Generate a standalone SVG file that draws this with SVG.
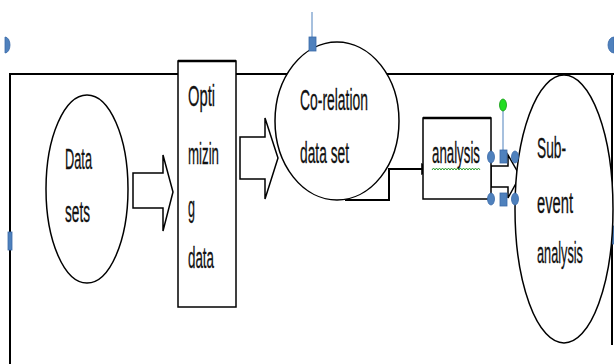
<svg xmlns="http://www.w3.org/2000/svg" width="614" height="364" viewBox="0 0 614 364">
  <style>
    .shape { fill: #ffffff; stroke: #000000; stroke-width: 1.5; }
    .frame { fill: none; stroke: #000000; stroke-width: 2; }
    .label { font-family: "Liberation Sans", Arial, sans-serif; font-size: 29px; fill: #111111; stroke: #111111; stroke-width: 0.3; }
    .handle { fill: #4f81bd; stroke: #3a6aa8; stroke-width: 0.8; }
    .handle-line { stroke: #4f81bd; stroke-width: 1; fill: none; }
    .wire { fill: none; stroke: #000000; stroke-width: 2; }
  </style>
  <defs>
    <marker id="arrow" viewBox="0 0 10 10" refX="9" refY="5" markerWidth="6" markerHeight="6" markerUnits="strokeWidth" orient="auto">
      <path d="M0,0 L10,5 L0,10 z" fill="#000000"/>
    </marker>
  </defs>

  <rect width="614" height="364" fill="#ffffff"/>

  <!-- outer frame -->
  <g id="frame">
    <path class="frame" d="M10,364 V74 H614"/>
    <path class="frame" d="M612,74 V345"/>
  </g>

  <!-- frame selection handles -->
  <g id="frame-handles">
    <path class="handle" d="M5,37 A5,8 0 0 1 5,53 Z"/>
    <rect class="handle" x="8" y="232" width="4" height="18"/>
    <path class="handle" d="M614,37 A6,8 0 0 0 614,53 Z"/>
    <rect class="handle" x="611" y="226" width="3" height="18"/>
  </g>

  <!-- connectors -->
  <g id="connectors">
    <path class="shape" d="M133,173 H163 V155 L173,192 L163,231 V208 H133 Z"/>
    <path class="shape" d="M240,137 H265 V118 L278,158 L265,199 V179 H240 Z"/>
    <path class="wire" d="M345,200 H389 V169 H432" marker-end="url(#arrow)"/>
    <path class="shape" d="M491,166 H508 V155 L520,176 L508,198 V187 H491 Z"/>
  </g>

  <g id="data-sets">
    <ellipse class="shape" cx="87" cy="189" rx="41" ry="94"/>
    <text class="label" x="65" y="169" textLength="27" lengthAdjust="spacingAndGlyphs">Data</text>
    <text class="label" x="65" y="222" textLength="25" lengthAdjust="spacingAndGlyphs">sets</text>
  </g>

  <g id="optimizing-data">
    <rect class="shape" x="178" y="61" width="58" height="246"/>
    <line x1="178" y1="61" x2="236" y2="61" stroke="#000" stroke-width="2.5"/>
    <text class="label" x="188" y="106" textLength="27" lengthAdjust="spacingAndGlyphs">Opti</text>
    <text class="label" x="188" y="164" textLength="31" lengthAdjust="spacingAndGlyphs">mizin</text>
    <text class="label" x="188" y="217" textLength="7" lengthAdjust="spacingAndGlyphs">g</text>
    <text class="label" x="188" y="268" textLength="26" lengthAdjust="spacingAndGlyphs">data</text>
  </g>

  <g id="co-relation-data-set">
    <ellipse class="shape" cx="337" cy="121" rx="62" ry="79"/>
    <text class="label" x="300" y="110" textLength="68" lengthAdjust="spacingAndGlyphs">Co-relation</text>
    <text class="label" x="300" y="163" textLength="49" lengthAdjust="spacingAndGlyphs">data set</text>
    <line class="handle-line" x1="312" y1="12" x2="312" y2="38"/>
    <rect class="handle" x="309" y="37" width="7" height="14"/>
  </g>

  <g id="analysis">
    <rect class="shape" x="423" y="118" width="68" height="81"/>
    <line x1="423" y1="118" x2="491" y2="118" stroke="#000" stroke-width="2.5"/>
    <text class="label" x="432" y="163" textLength="48" lengthAdjust="spacingAndGlyphs">analysis</text>
    <path d="M432,170 l1.5,-2 l1.5,2 l1.5,-2 l1.5,2 l1.5,-2 l1.5,2 l1.5,-2 l1.5,2 l1.5,-2 l1.5,2 l1.5,-2 l1.5,2 l1.5,-2 l1.5,2 l1.5,-2 l1.5,2 l1.5,-2 l1.5,2 l1.5,-2 l1.5,2 l1.5,-2 l1.5,2 l1.5,-2 l1.5,2 l1.5,-2 l1.5,2 l1.5,-2 l1.5,2 l1.5,-2 l1.5,2 l1.5,-2 l1.5,2" fill="none" stroke="#2e9e2e" stroke-width="1"/>
  </g>

  <g id="sub-event-analysis">
    <ellipse class="shape" cx="564" cy="209" rx="49" ry="134"/>
    <text class="label" x="537" y="158" textLength="29" lengthAdjust="spacingAndGlyphs">Sub-</text>
    <text class="label" x="537" y="213" textLength="36" lengthAdjust="spacingAndGlyphs">event</text>
    <text class="label" transform="translate(537,263) scale(0.38,1)" x="0" y="0" textLength="121" lengthAdjust="spacingAndGlyphs">analysis</text>
  </g>

  <!-- selection handles of the small block arrow -->
  <g id="arrow-handles">
    <line class="handle-line" x1="503" y1="110" x2="503" y2="152"/>
    <ellipse cx="503" cy="105" rx="3.5" ry="6" fill="#22dd22" stroke="#119911" stroke-width="0.8"/>
    <rect class="handle" x="500" y="150" width="7" height="13"/>
    <rect class="handle" x="500" y="193" width="7" height="13"/>
    <ellipse class="handle" cx="491" cy="157" rx="3.5" ry="6"/>
    <ellipse class="handle" cx="491" cy="199" rx="3.5" ry="6"/>
    <ellipse class="handle" cx="515" cy="157" rx="3.5" ry="6"/>
    <ellipse class="handle" cx="515" cy="199" rx="3.5" ry="6"/>
  </g>
</svg>
